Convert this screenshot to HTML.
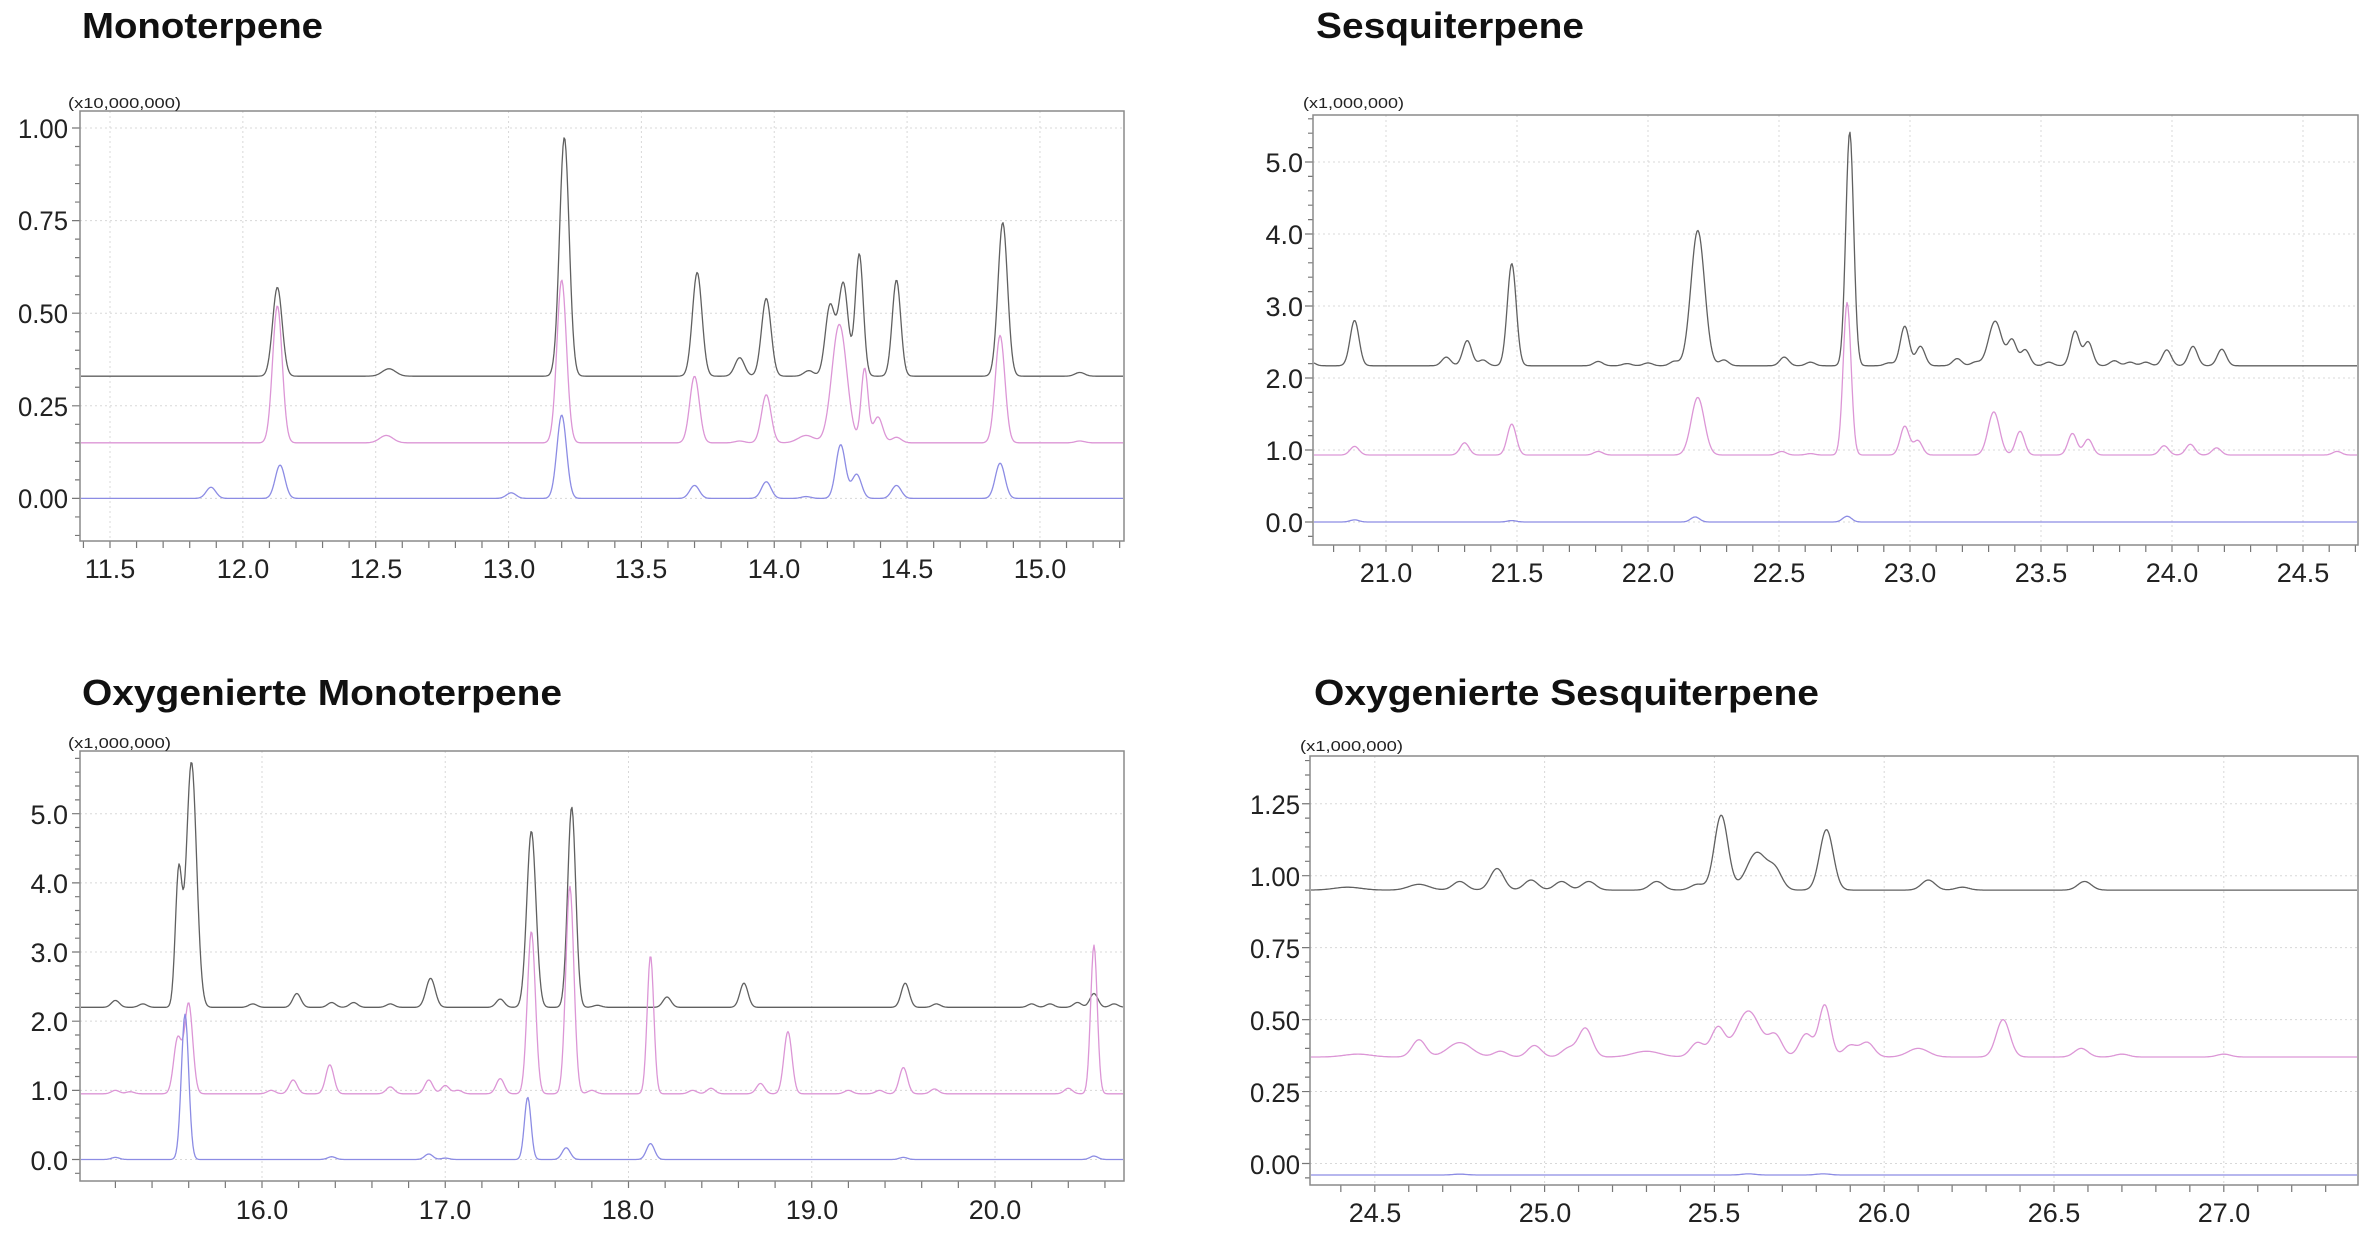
<!DOCTYPE html>
<html><head><meta charset="utf-8"><style>
html,body{margin:0;padding:0;background:#fff;}
svg{display:block;}
.t{font-family:"Liberation Sans",sans-serif;font-weight:bold;font-size:36px;fill:#111;}
.u{font-family:"Liberation Sans",sans-serif;font-size:15px;fill:#222;}
.yl{font-family:"Liberation Sans",sans-serif;font-size:27px;fill:#222;text-anchor:end;}
.xl{font-family:"Liberation Sans",sans-serif;font-size:27px;fill:#222;text-anchor:middle;}
</style></head><body>
<svg id="s" width="2371" height="1237" viewBox="0 0 2371 1237" xmlns="http://www.w3.org/2000/svg">
<rect width="2371" height="1237" fill="#fff"/>
<g id="plots"></g>
<text class="t" x="82" y="38" textLength="241" lengthAdjust="spacingAndGlyphs">Monoterpene</text>
<text class="t" x="1316" y="38" textLength="268" lengthAdjust="spacingAndGlyphs">Sesquiterpene</text>
<text class="t" x="82" y="705" textLength="480" lengthAdjust="spacingAndGlyphs">Oxygenierte Monoterpene</text>
<text class="t" x="1314" y="705" textLength="505" lengthAdjust="spacingAndGlyphs">Oxygenierte Sesquiterpene</text>
<text class="u" x="68" y="108" textLength="113" lengthAdjust="spacingAndGlyphs">(x10,000,000)</text>
<text class="u" x="1303" y="108" textLength="101" lengthAdjust="spacingAndGlyphs">(x1,000,000)</text>
<text class="u" x="68" y="748" textLength="103" lengthAdjust="spacingAndGlyphs">(x1,000,000)</text>
<text class="u" x="1300" y="751" textLength="103" lengthAdjust="spacingAndGlyphs">(x1,000,000)</text>
<text class="yl" x="68" y="138" textLength="50" lengthAdjust="spacingAndGlyphs">1.00</text>
<text class="yl" x="68" y="230" textLength="50" lengthAdjust="spacingAndGlyphs">0.75</text>
<text class="yl" x="68" y="323" textLength="50" lengthAdjust="spacingAndGlyphs">0.50</text>
<text class="yl" x="68" y="416" textLength="50" lengthAdjust="spacingAndGlyphs">0.25</text>
<text class="yl" x="68" y="508" textLength="50" lengthAdjust="spacingAndGlyphs">0.00</text>
<text class="xl" x="110" y="578">11.5</text>
<text class="xl" x="243" y="578">12.0</text>
<text class="xl" x="376" y="578">12.5</text>
<text class="xl" x="509" y="578">13.0</text>
<text class="xl" x="641" y="578">13.5</text>
<text class="xl" x="774" y="578">14.0</text>
<text class="xl" x="907" y="578">14.5</text>
<text class="xl" x="1040" y="578">15.0</text>
<text class="yl" x="1303" y="172">5.0</text>
<text class="yl" x="1303" y="244">4.0</text>
<text class="yl" x="1303" y="316">3.0</text>
<text class="yl" x="1303" y="388">2.0</text>
<text class="yl" x="1303" y="460">1.0</text>
<text class="yl" x="1303" y="532">0.0</text>
<text class="xl" x="1386" y="582">21.0</text>
<text class="xl" x="1517" y="582">21.5</text>
<text class="xl" x="1648" y="582">22.0</text>
<text class="xl" x="1779" y="582">22.5</text>
<text class="xl" x="1910" y="582">23.0</text>
<text class="xl" x="2041" y="582">23.5</text>
<text class="xl" x="2172" y="582">24.0</text>
<text class="xl" x="2303" y="582">24.5</text>
<text class="yl" x="68" y="824">5.0</text>
<text class="yl" x="68" y="893">4.0</text>
<text class="yl" x="68" y="962">3.0</text>
<text class="yl" x="68" y="1031">2.0</text>
<text class="yl" x="68" y="1100">1.0</text>
<text class="yl" x="68" y="1170">0.0</text>
<text class="xl" x="262" y="1219">16.0</text>
<text class="xl" x="445" y="1219">17.0</text>
<text class="xl" x="628" y="1219">18.0</text>
<text class="xl" x="812" y="1219">19.0</text>
<text class="xl" x="995" y="1219">20.0</text>
<text class="yl" x="1300" y="814" textLength="50" lengthAdjust="spacingAndGlyphs">1.25</text>
<text class="yl" x="1300" y="886" textLength="50" lengthAdjust="spacingAndGlyphs">1.00</text>
<text class="yl" x="1300" y="958" textLength="50" lengthAdjust="spacingAndGlyphs">0.75</text>
<text class="yl" x="1300" y="1030" textLength="50" lengthAdjust="spacingAndGlyphs">0.50</text>
<text class="yl" x="1300" y="1102" textLength="50" lengthAdjust="spacingAndGlyphs">0.25</text>
<text class="yl" x="1300" y="1174" textLength="50" lengthAdjust="spacingAndGlyphs">0.00</text>
<text class="xl" x="1375" y="1222">24.5</text>
<text class="xl" x="1545" y="1222">25.0</text>
<text class="xl" x="1714" y="1222">25.5</text>
<text class="xl" x="1884" y="1222">26.0</text>
<text class="xl" x="2054" y="1222">26.5</text>
<text class="xl" x="2224" y="1222">27.0</text>
</svg>
<script>
(function(){
var NS="http://www.w3.org/2000/svg";
var G=document.getElementById("plots");
function el(n,a){var e=document.createElementNS(NS,n);for(var k in a)e.setAttribute(k,a[k]);G.appendChild(e);return e;}
var K="#606060",P="#dc96d6",B="#8c8ce4";
var panels=[
{box:[80,111,1124,541],x0:11.5,px0:110,ppx:265.7,y0:0,py0:498.4,ppy:370.4,
 xmaj:[11.5,12,12.5,13,13.5,14,14.5,15],xmin:0.1,ymaj:[0,0.25,0.5,0.75,1.0],ymin:0.05,s:0.018,
 tr:[[K,0.33,[[12.13,.24],[12.55,.02,.025],[13.21,.645],[13.71,.28],[13.87,.05],[13.97,.21],[14.13,.015],[14.21,.19],[14.26,.25],[14.32,.33,.015],[14.46,.26,.016],[14.86,.415],[15.15,.01]]],
     [P,0.15,[[12.13,.37],[12.54,.02,.025],[13.20,.44],[13.70,.18],[13.87,.005],[13.97,.13],[14.12,.02,.03],[14.245,.32,.028],[14.34,.2,.013],[14.39,.07],[14.46,.015],[14.85,.29],[15.15,.005]]],
     [B,0.0,[[11.88,.03],[12.14,.09],[13.01,.015],[13.20,.225],[13.70,.035],[13.97,.045],[14.12,.005],[14.25,.145],[14.31,.065],[14.46,.035],[14.85,.095]]]]},
{box:[1313,115,2358,545],x0:21,px0:1386,ppx:262,y0:0,py0:522,ppy:72,
 xmaj:[21,21.5,22,22.5,23,23.5,24,24.5],xmin:0.1,ymaj:[0,1,2,3,4,5],ymin:0.2,s:0.017,
 tr:[[K,2.17,[[20.71,.06],[20.88,.63],[21.23,.12],[21.31,.35],[21.37,.08],[21.48,1.42],[21.81,.06],[21.92,.03],[22.0,.04],[22.1,.06],[22.19,1.88,.026],[22.29,.08],[22.52,.12],[22.62,.05],[22.77,3.25,.015],[22.92,.04],[22.98,.55],[23.04,.27],[23.18,.1],[23.25,.05],[23.325,.62,.025],[23.39,.35],[23.44,.22],[23.53,.05],[23.63,.48],[23.68,.33],[23.78,.07],[23.84,.05],[23.9,.05],[23.98,.22],[24.08,.27],[24.19,.23]]],
     [P,0.93,[[20.88,.12],[21.3,.17],[21.48,.43],[21.81,.05],[22.19,.8,.025],[22.51,.05],[22.62,.02],[22.76,2.12,.015],[22.98,.4],[23.03,.2],[23.32,.6,.022],[23.42,.33],[23.62,.3],[23.68,.22],[23.97,.13],[24.07,.15],[24.17,.1],[24.63,.05]]],
     [B,0.0,[[20.88,.03],[21.48,.02],[22.18,.07],[22.76,.08]]]]},
{box:[80,751,1124,1181],x0:16,px0:262,ppx:183.25,y0:0,py0:1159.5,ppy:69.16,
 xmaj:[16,17,18,19,20],xmin:0.2,ymaj:[0,1,2,3,4,5],ymin:0.2,s:0.022,
 tr:[[K,2.2,[[15.2,.1],[15.35,.05],[15.545,1.9,.018],[15.615,3.55,.028],[15.95,.05],[16.19,.2],[16.38,.07],[16.5,.07],[16.7,.05],[16.92,.42,.025],[17.3,.12],[17.47,2.55,.025],[17.69,2.9,.022],[17.83,.03],[18.21,.15],[18.63,.35],[19.51,.35],[19.68,.05],[20.2,.05],[20.3,.05],[20.45,.07],[20.54,.2],[20.65,.05]]],
     [P,0.95,[[15.2,.05],[15.28,.03],[15.54,.8],[15.6,1.3],[16.05,.05],[16.17,.2],[16.37,.42],[16.7,.1],[16.91,.2],[17.0,.12],[17.07,.05],[17.3,.22],[17.47,2.35],[17.68,3.0],[17.8,.05],[18.12,2.0,.018],[18.35,.05],[18.45,.08],[18.72,.15],[18.87,.9],[19.2,.05],[19.37,.05],[19.5,.38],[19.67,.07],[20.4,.08],[20.54,2.15,.018]]],
     [B,0.0,[[15.2,.03],[15.58,2.1,.02],[16.38,.04],[16.91,.08],[17.0,.02],[17.45,.9,.018],[17.66,.17],[18.12,.23],[19.5,.03],[20.54,.05]]]]},
{box:[1310,756,2358,1185],x0:24.5,px0:1374.8,ppx:339.6,y0:0,py0:1163.5,ppy:287.8,
 xmaj:[24.5,25,25.5,26,26.5,27],xmin:0.1,ymaj:[0,0.25,0.5,0.75,1.0,1.25],ymin:0.05,s:0.02,
 tr:[[K,0.95,[[24.42,.01,.04],[24.63,.02,.03],[24.75,.03],[24.86,.075],[24.96,.035],[25.05,.03],[25.13,.03],[25.33,.03],[25.45,.02],[25.52,.26],[25.625,.13,.03],[25.68,.06],[25.83,.21],[26.13,.035],[26.23,.01],[26.59,.03]]],
     [P,0.37,[[24.45,.01,.04],[24.63,.06],[24.75,.05,.035],[24.87,.02],[24.97,.04],[25.07,.03],[25.12,.10],[25.3,.02,.04],[25.45,.05],[25.51,.10],[25.6,.16,.035],[25.68,.07],[25.77,.08],[25.825,.18,.017],[25.9,.04],[25.95,.05],[26.1,.03,.03],[26.35,.13],[26.58,.03],[26.7,.01],[27.0,.01]]],
     [B,-0.04,[[24.75,.003],[25.6,.004],[25.82,.004]]]]}
];
panels.forEach(function(p){
 var b=p.box;
 function X(v){return p.px0+(v-p.x0)*p.ppx;}
 function Y(v){return p.py0-(v-p.y0)*p.ppy;}
 var d="";
 p.xmaj.forEach(function(v){d+="M"+X(v)+" "+b[1]+"V"+b[3];});
 p.ymaj.forEach(function(v){d+="M"+b[0]+" "+Y(v)+"H"+b[2];});
 el("path",{d:d,stroke:"#d8d8d8","stroke-width":1,"stroke-dasharray":"2,3",fill:"none"});
 var t="";
 var vmin=p.x0+(b[0]-p.px0)/p.ppx, vmax=p.x0+(b[2]-p.px0)/p.ppx;
 var st=Math.ceil(vmin/p.xmin-1e-6);
 for(var i=st;i*p.xmin<=vmax;i++){var x=X(i*p.xmin);t+="M"+x+" "+b[3]+"v7";}
 var ymn=p.y0-(b[3]-p.py0)/p.ppy, ymx=p.y0+(p.py0-b[1])/p.ppy;
 st=Math.ceil(ymn/p.ymin-1e-6);
 for(i=st;i*p.ymin<=ymx;i++){var y=Y(i*p.ymin);t+="M"+b[0]+" "+y+"h-5";}
 p.ymaj.forEach(function(v){t+="M"+b[0]+" "+Y(v)+"h-8";});
 el("path",{d:t,stroke:"#777","stroke-width":1.2,fill:"none"});
 el("rect",{x:b[0],y:b[1],width:b[2]-b[0],height:b[3]-b[1],fill:"none",stroke:"#8a8a8a","stroke-width":1.5});
 p.tr.forEach(function(tr){
  var pts=[];
  for(var px=b[0]+1;px<=b[2]-1;px+=1){
   var v=p.x0+(px-p.px0)/p.ppx, yv=tr[1];
   tr[2].forEach(function(k){var s=k[2]||p.s;var dd=(v-k[0])/s;if(dd*dd<60)yv+=k[1]*Math.exp(-dd*dd/2);});
   var py=Y(yv); if(py<b[1]+1)py=b[1]+1;
   pts.push(px+","+py.toFixed(1));
  }
  el("polyline",{points:pts.join(" "),fill:"none",stroke:tr[0],"stroke-width":1.3,"stroke-linejoin":"round"});
 });
});
})();
</script>
</body></html>
